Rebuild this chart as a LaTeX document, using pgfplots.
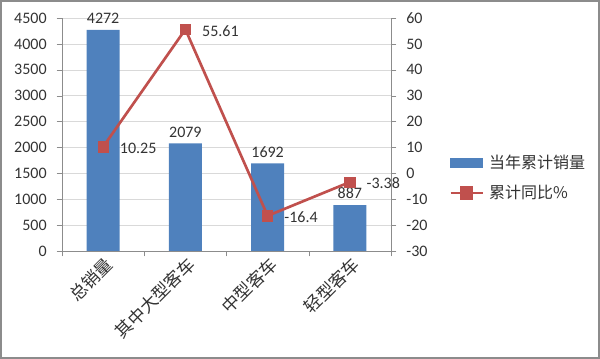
\documentclass[border=0pt]{standalone}
\usepackage{pgfplots}
\pgfplotsset{compat=1.18}
\usepackage{fontspec}
\setmainfont{Carlito}
\newfontfamily\cjk{Noto Sans CJK SC}
\definecolor{barblue}{HTML}{4F81BD}
\definecolor{linered}{HTML}{C0504D}
\definecolor{gridgray}{HTML}{D9D9D9}
\definecolor{axgray}{HTML}{8C8C8C}
\definecolor{txt}{HTML}{333333}
\pgfplotstableread{
x y
0 4272
1 2079
2 1692
3 887
}\bars
\pgfplotstableread{
x y
0 10.25
1 55.61
2 -16.4
3 -3.38
}\rates
\begin{document}
\begin{tikzpicture}[x=0.75pt,y=0.75pt]
\useasboundingbox (0,0) rectangle (600,359);
\draw[axgray, line width=1pt] (1,1) rectangle (599,358);
\begin{axis}[
  at={(46.5pt,81pt)}, anchor=south west,
  scale only axis, width=246.75pt, height=174.75pt,
  xmin=-0.5, xmax=3.5, ymin=0, ymax=4500,
  ytick={0,500,...,4500},
  xtick={0,1,2,3},
  xticklabels={总销量,其中大型客车,中型客车,轻型客车},
  minor xtick={-0.5,0.5,1.5,2.5,3.5},
  major x tick style={draw=none},
  minor x tick style={draw=axgray},
  tick align=outside,
  major tick length=4pt, minor tick length=4pt,
  axis x line*=bottom, axis y line*=left,
  axis line style={axgray},
  ytick style={draw=axgray},
  ymajorgrids, grid style={gridgray},
  /pgf/number format/assume math mode=true,
  /pgf/number format/1000 sep={},
  yticklabel style={font=\fontsize{12}{14}\selectfont, text=txt, xshift=-4pt},
  xticklabel style={rotate=45, anchor=east, font=\cjk\fontsize{13}{14}\selectfont, text=txt, yshift=-6pt, xshift=2pt, inner sep=1pt},
]
\addplot[ybar, bar width=0.4, fill=barblue, draw=none,
  nodes near coords, nodes near coords style={font=\fontsize{12}{14}\selectfont, text=txt, anchor=south, yshift=1pt},
  point meta=y] table[x=x,y=y] {\bars};
\end{axis}
\begin{axis}[
  at={(46.5pt,81pt)}, anchor=south west,
  scale only axis, width=246.75pt, height=174.75pt,
  xmin=-0.5, xmax=3.5, ymin=-30, ymax=60,
  ytick={-30,-20,...,60},
  axis x line=none, axis y line*=right,
  axis line style={axgray},
  ytick style={draw=axgray},
  tick align=outside, major tick length=4pt,
  /pgf/number format/assume math mode=true,
  yticklabel style={font=\fontsize{12}{14}\selectfont, text=txt, xshift=4pt},
  legend style={at={(1.164,0.313)}, anchor=west, draw=none, fill=none,
    font=\cjk\fontsize{12}{14}\selectfont, text=txt, row sep=7pt,
    /tikz/every odd column/.append style={column sep=2pt}},
  legend cell align=left,
]
\addlegendimage{legend image code/.code={\fill[barblue] (0pt,-3.3pt) rectangle (24pt,3.3pt);}}
\addlegendentry{当年累计销量}
\addplot[linered, line width=2pt, mark=square*, mark size=3.8pt,
  mark options={fill=linered, draw=linered, line width=0.5pt},
  nodes near coords, point meta=explicit symbolic,
  nodes near coords style={font=\fontsize{12}{14}\selectfont, text=txt, anchor=west, xshift=9pt, yshift=-1pt},
  legend image code/.code={\draw[linered, line width=2pt] (0pt,0pt) -- (24pt,0pt); \fill[linered] (8pt,-4pt) rectangle (16pt,4pt);}
  ] table[x=x,y=y,meta=y] {\rates};
\addlegendentry{累计同比\%}
\end{axis}
\end{tikzpicture}
\end{document}
